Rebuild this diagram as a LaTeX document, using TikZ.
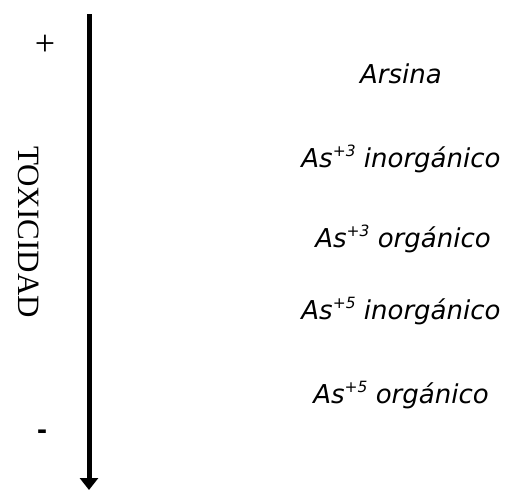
\documentclass[tikz,border=0pt]{standalone}
\usepackage{fontspec}
\setmainfont{Liberation Serif}
\newfontfamily\labfont{DejaVu Sans}
\newfontfamily\minusfont{Liberation Sans}
\usetikzlibrary{arrows.meta}
\newcommand{\chg}[1]{\raisebox{0.42em}{\fontsize{15.5}{16}\selectfont #1}}
\tikzset{
  item/.style={font=\labfont\itshape\fontsize{26}{30}\selectfont, anchor=base, inner sep=0pt},
  sign/.style={inner sep=0pt},
  axis/.style={line width=5pt, -{Triangle[length=12pt,width=18pt]}}
}
\begin{document}
\begin{tikzpicture}[x=1pt,y=-1pt]
\useasboundingbox (0,0) rectangle (507,490);
\coordinate (top) at (89,14);
\coordinate (bot) at (89,490);
\draw[axis] (top) -- (bot);
\node[sign, font=\fontsize{36}{38}\selectfont] (plus) at (45,45) {+};
\node[sign, font=\minusfont\bfseries\fontsize{30}{32}\selectfont] (minus) at (42,435) {-};
\node[inner sep=0pt, rotate=-90, font=\fontsize{31}{34}\selectfont] (tox) at (29,232) {TOXICIDAD};
\node[item] (a1) at (401,83) {Arsina};
\node[item] (a2) at (401,167) {As\chg{+3} inorgánico};
\node[item] (a3) at (403,247) {As\chg{+3} orgánico};
\node[item] (a4) at (401,319) {As\chg{+5} inorgánico};
\node[item] (a5) at (401,403) {As\chg{+5} orgánico};
\end{tikzpicture}
\end{document}
